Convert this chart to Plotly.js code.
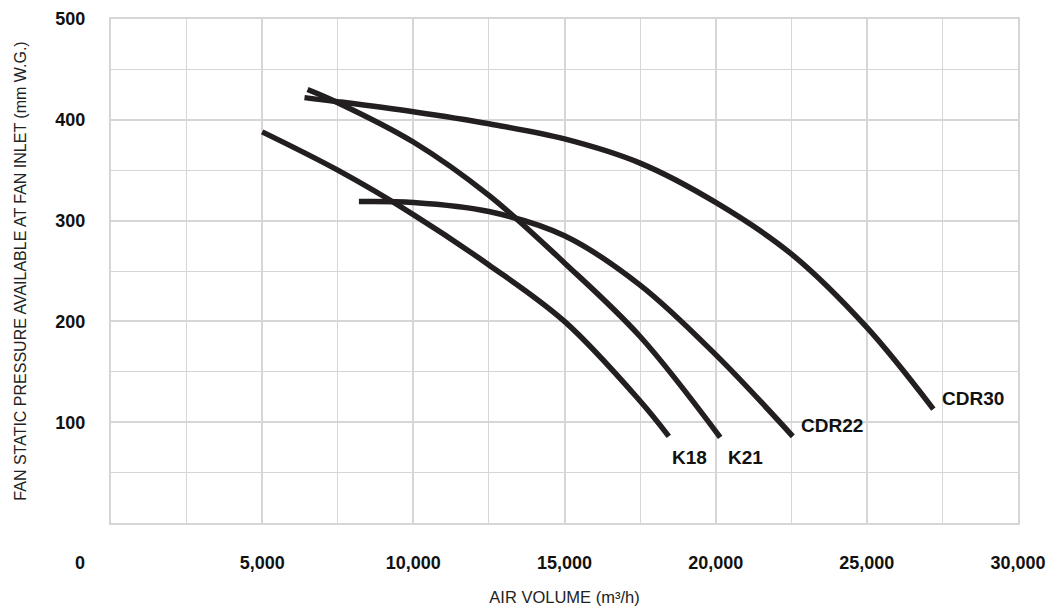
<!DOCTYPE html>
<html>
<head>
<meta charset="utf-8">
<script src="https://cdn.plot.ly/plotly-3.0.1.min.js"></script>
<style>html,body{margin:0;padding:0;background:#fff;}#chart{width:1062px;height:612px;}</style>
</head>
<body>
<div id="chart"></div>
<script>
// Air volume (m3/h) and static pressure (mm W.G.)
const k18X = [5000, 7500, 10000, 12500, 15000, 17500, 18450];
const k18Y = [388, 350, 306, 256, 200, 121, 86];
const k21X = [6500, 7500, 10000, 12500, 15000, 17500, 20150];
const k21Y = [430, 417, 378, 325, 258, 185, 85];
const cdr22X = [8200, 10000, 12500, 15000, 17500, 20000, 22550];
const cdr22Y = [319, 318, 309, 285, 236, 167, 86];
const cdr30X = [6400, 7500, 10000, 12500, 15000, 17500, 20000, 22500, 25000, 27200];
const cdr30Y = [422, 418, 408, 396, 381, 357, 318, 267, 194, 113];

const seriesNames = ['K18', 'K21', 'CDR22', 'CDR30'];
const labelX = [19150, 21000, 23850, 28500];
const labelY = [65, 65, 97, 124];

const xTickVals = [5000, 10000, 15000, 20000, 25000, 30000];
const xTickText = ['5,000', '10,000', '15,000', '20,000', '25,000', '30,000'];
const yTickVals = [100, 200, 300, 400, 500];
const yTickText = ['100', '200', '300', '400', '500'];
const cornerLabel = '0';

const lineColor = '#231f20';
const gridColor = '#d6d6d6';
const fontFamily = 'Liberation Sans, Arial, sans-serif';

const L = 111, R = 44, T = 19, B = 89, W = 1062, H = 612;
const pw = W - L - R, ph = H - T - B;

const xs = [k18X, k21X, cdr22X, cdr30X];
const ys = [k18Y, k21Y, cdr22Y, cdr30Y];
const traces = xs.map((x, i) => ({
  x: x, y: ys[i], name: seriesNames[i], type: 'scatter', mode: 'lines',
  line: {color: lineColor, width: 5.5, shape: 'spline', smoothing: 1},
  hoverinfo: 'x+y+name'
}));

const annotations = seriesNames.map((n, i) => ({
  x: labelX[i], y: labelY[i], xref: 'x', yref: 'y', text: '<b>' + n + '</b>',
  xanchor: 'center', yanchor: 'middle',
  showarrow: false, font: {family: fontFamily, size: 19, color: '#111'}
}));
annotations.push({
  x: (80 - L) / pw, y: (H - B - 563) / ph, xref: 'paper', yref: 'paper',
  text: '<b>' + cornerLabel + '</b>', showarrow: false,
  xanchor: 'center', yanchor: 'middle',
  font: {family: fontFamily, size: 18, color: '#111'}
});

const layout = {
  width: W, height: H,
  margin: {l: L, r: R, t: T, b: B, pad: 0},
  paper_bgcolor: '#fff', plot_bgcolor: '#fff',
  showlegend: false,
  xaxis: {
    range: [0, 30000], tickvals: xTickVals, ticktext: xTickText,
    showgrid: true, gridcolor: gridColor, gridwidth: 2,
    minor: {dtick: 2500, tick0: 0, showgrid: true, gridcolor: gridColor, gridwidth: 1},
    showline: true, linecolor: gridColor, linewidth: 2, mirror: true,
    zeroline: false, ticks: '', ticklabelstandoff: 22,
    tickfont: {family: fontFamily, size: 18, color: '#111', weight: 'bold'},
    title: {text: 'AIR VOLUME (m³/h)', standoff: 20, font: {family: fontFamily, size: 16.5, color: '#222'}},
    fixedrange: true
  },
  yaxis: {
    range: [0, 500], tickvals: yTickVals, ticktext: yTickText,
    showgrid: true, gridcolor: gridColor, gridwidth: 2,
    minor: {dtick: 50, tick0: 0, showgrid: true, gridcolor: gridColor, gridwidth: 1},
    showline: true, linecolor: gridColor, linewidth: 2, mirror: true,
    zeroline: false, ticks: '', ticklabelstandoff: 20,
    tickfont: {family: fontFamily, size: 18, color: '#111', weight: 'bold'},
    title: {text: 'FAN STATIC PRESSURE AVAILABLE AT FAN INLET (mm W.G.)', standoff: 25, font: {family: fontFamily, size: 16, color: '#222'}},
    fixedrange: true
  },
  annotations: annotations
};

Plotly.newPlot('chart', traces, layout, {displayModeBar: false});
</script>
</body>
</html>
